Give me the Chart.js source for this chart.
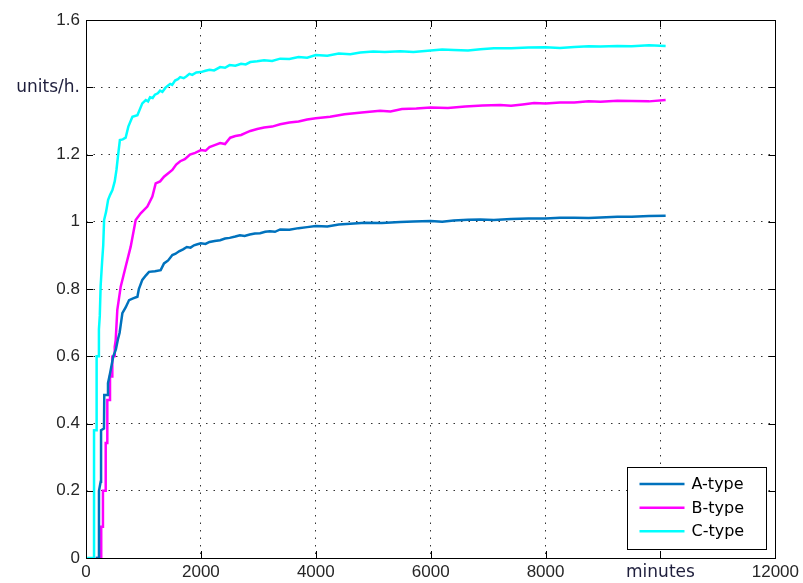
<!DOCTYPE html>
<html>
<head>
<meta charset="utf-8">
<script src="https://cdn.jsdelivr.net/npm/chart.js@4/dist/chart.umd.min.js"></script>
<style>
  html, body { margin: 0; padding: 0; background: #fff; }
  #wrap { width: 803px; height: 583px; }
</style>
</head>
<body>
<div id="wrap"><canvas id="myChart" width="803" height="583"></canvas></div>
<script>
// series values (x in minutes, y in units/h.)
const aMinutes = [170, 226, 226, 255, 262, 262, 313, 318, 383, 383, 420, 475, 520, 555, 585, 610, 633, 690, 750, 820, 895, 920, 980, 1040, 1097, 1200, 1300, 1358, 1430,
    1503, 1560, 1620, 1690, 1755, 1820, 1880, 1940, 2000, 2080, 2150, 2240, 2335, 2420, 2500, 2600, 2680, 2760, 2850, 2940, 3030, 3120, 3200, 3290, 3380, 3540, 3700, 3850,
    4000, 4200, 4400, 4600, 4860, 5150, 5470, 5700, 6000, 6200, 6400, 6650, 6865, 7100, 7400, 7700, 8000, 8250, 8500, 8750, 8955, 9250, 9500, 9800, 10090];
const aRate    = [0, 0, 0.2, 0.227, 0.227, 0.38, 0.385, 0.485, 0.485, 0.52, 0.55, 0.6, 0.62, 0.65, 0.67, 0.7, 0.728, 0.745, 0.767, 0.772, 0.777, 0.8, 0.827, 0.84, 0.851, 0.853, 0.856, 0.876, 0.885,
    0.901, 0.905, 0.912, 0.918, 0.925, 0.923, 0.93, 0.933, 0.936, 0.934, 0.94, 0.943, 0.945, 0.95, 0.952, 0.956, 0.96, 0.958, 0.962, 0.965, 0.966, 0.97, 0.972, 0.97, 0.977, 0.976, 0.981, 0.984,
    0.987, 0.986, 0.992, 0.994, 0.997, 0.996, 0.999, 1.001, 1.002, 1.0, 1.004, 1.006, 1.007, 1.005, 1.008, 1.01, 1.01, 1.012, 1.012, 1.011, 1.013, 1.015, 1.015, 1.017, 1.018];

const bMinutes = [170, 265, 265, 295, 295, 343, 343, 371, 371, 418, 418, 458, 458, 500, 500, 517, 545, 604, 690, 778, 865, 952, 1068, 1155, 1213, 1290, 1358,
    1503, 1570, 1640, 1720, 1810, 1900, 2000, 2080, 2150, 2240, 2335, 2420, 2510, 2600, 2700, 2780, 2860, 2980, 3100, 3240, 3380, 3540, 3700, 3850,
    4000, 4250, 4500, 4800, 5120, 5300, 5500, 5750, 6000, 6300, 6600, 6900, 7210, 7400, 7600, 7800, 8000, 8250, 8500, 8750, 8955, 9250, 9500, 9800, 10090];
const bRate    = [0, 0, 0.093, 0.093, 0.2, 0.2, 0.342, 0.342, 0.47, 0.47, 0.54, 0.54, 0.599, 0.6, 0.628, 0.648, 0.738, 0.807, 0.866, 0.926, 1.005, 1.025, 1.045, 1.075, 1.114, 1.12, 1.134,
    1.154, 1.17, 1.18, 1.186, 1.2, 1.205, 1.213, 1.211, 1.222, 1.228, 1.234, 1.231, 1.25, 1.255, 1.258, 1.264, 1.27, 1.276, 1.28, 1.283, 1.29, 1.295, 1.298, 1.304,
    1.308, 1.312, 1.32, 1.325, 1.33, 1.328, 1.335, 1.337, 1.34, 1.338, 1.343, 1.346, 1.347, 1.345, 1.349, 1.353, 1.352, 1.355, 1.355, 1.358, 1.357, 1.36, 1.359, 1.358, 1.362];

const cMinutes = [20, 140, 140, 185, 185, 225, 225, 240, 255, 280, 300, 315, 350, 385, 420, 460, 500, 530, 560, 590, 640, 690, 737, 808, 895, 980,
    1040, 1080, 1115, 1160, 1200, 1250, 1290, 1330, 1380, 1420, 1465, 1500, 1550, 1600, 1640, 1700, 1750, 1800, 1850, 1920, 2000, 2080, 2150, 2230, 2335, 2420,
    2500, 2600, 2700, 2780, 2860, 2980, 3100, 3240, 3380, 3540, 3700, 3850, 4000, 4200, 4400, 4600, 4775, 5000, 5200, 5470, 5700, 6000, 6200, 6400, 6650,
    6865, 7100, 7400, 7700, 8000, 8250, 8500, 8750, 8955, 9250, 9500, 9800, 10090];
const cRate    = [0, 0, 0.38, 0.38, 0.6, 0.6, 0.68, 0.72, 0.81, 0.88, 0.93, 1.005, 1.03, 1.065, 1.08, 1.094, 1.12, 1.154, 1.2, 1.243, 1.245, 1.25, 1.283, 1.312, 1.317, 1.352,
    1.362, 1.358, 1.37, 1.368, 1.378, 1.382, 1.39, 1.386, 1.398, 1.404, 1.41, 1.407, 1.42, 1.424, 1.43, 1.427, 1.433, 1.44, 1.437, 1.444, 1.445, 1.449, 1.452, 1.45, 1.46, 1.458,
    1.466, 1.464, 1.47, 1.468, 1.475, 1.477, 1.48, 1.478, 1.485, 1.484, 1.49, 1.488, 1.496, 1.494, 1.5, 1.498, 1.503, 1.506, 1.505, 1.507, 1.505, 1.509, 1.512, 1.511, 1.509,
    1.513, 1.516, 1.516, 1.518, 1.519, 1.517, 1.52, 1.522, 1.521, 1.523, 1.522, 1.525, 1.523];

const seriesNames = ['A-type', 'B-type', 'C-type'];
const seriesColors = ['#0072BD', '#FF00FF', '#00FFFF'];
const xTickLabels = { 10000: 'minutes' };
const yTickLabels = { '1.4': 'units/h.' };

const toPoints = (xs, ys) => xs.map((x, i) => ({ x: x, y: ys[i] }));
const yKey = v => String(Math.round(v * 10) / 10);
const isXWord = c => !!(c.tick && xTickLabels[c.tick.value]);
const isYWord = c => !!(c.tick && yTickLabels[yKey(c.tick.value)]);
const wordFont = { family: 'DejaVu Sans', size: 17 };
const numFont = { family: 'Liberation Sans', size: 17 };

// box, inner tick marks and legend drawn like the matlab axes
const axesBox = {
    id: 'axesBox',
    afterDatasetsDraw(chart) {
        const { ctx, chartArea: a, scales } = chart;
        const tl = 7;
        ctx.save();
        ctx.strokeStyle = '#000';
        ctx.lineWidth = 1;
        ctx.beginPath();
        scales.x.ticks.forEach(t => {
            const px = Math.round(scales.x.getPixelForValue(t.value)) + 0.5;
            ctx.moveTo(px, a.bottom); ctx.lineTo(px, a.bottom - tl);
            ctx.moveTo(px, a.top); ctx.lineTo(px, a.top + tl);
        });
        scales.y.ticks.forEach(t => {
            const py = Math.round(scales.y.getPixelForValue(t.value)) + 0.5;
            ctx.moveTo(a.left, py); ctx.lineTo(a.left + tl, py);
            ctx.moveTo(a.right, py); ctx.lineTo(a.right - tl, py);
        });
        ctx.stroke();
        ctx.strokeRect(Math.round(a.left) + 0.5, Math.round(a.top) + 0.5,
            Math.round(a.right - a.left), Math.round(a.bottom - a.top));

        // legend
        const w = 139, h = 82;
        const bx = Math.round(a.right - 9 - w) + 0.5;
        const by = Math.round(a.bottom - 9 - h) + 0.5;
        ctx.fillStyle = '#fff';
        ctx.fillRect(bx, by, w, h);
        ctx.strokeRect(bx, by, w, h);
        const rows = [16.5, 40.3, 63.7];
        ctx.font = '16px "DejaVu Sans"';
        ctx.textBaseline = 'middle';
        ctx.textAlign = 'left';
        chart.data.datasets.forEach((ds, i) => {
            const y = by + rows[i];
            ctx.strokeStyle = ds.borderColor;
            ctx.lineWidth = 2.5;
            ctx.beginPath();
            ctx.moveTo(bx + 12, y); ctx.lineTo(bx + 57, y);
            ctx.stroke();
            ctx.fillStyle = '#000';
            ctx.fillText(ds.label, bx + 64, y + 1);
        });
        ctx.restore();
    }
};

const ctx = document.getElementById('myChart').getContext('2d');
const myChart = new Chart(ctx, {
    type: 'line',
    data: {
        datasets: [
            { label: seriesNames[0], data: toPoints(aMinutes, aRate), borderColor: seriesColors[0], borderWidth: 2.5 },
            { label: seriesNames[1], data: toPoints(bMinutes, bRate), borderColor: seriesColors[1], borderWidth: 2.5 },
            { label: seriesNames[2], data: toPoints(cMinutes, cRate), borderColor: seriesColors[2], borderWidth: 2.5 }
        ]
    },
    options: {
        responsive: false,
        animation: false,
        elements: { point: { radius: 0 }, line: { tension: 0, fill: false } },
        layout: { padding: { top: 20, right: 27, left: 0, bottom: 0 } },
        scales: {
            x: {
                type: 'linear',
                min: 0,
                max: 12000,
                afterFit: s => { s.height = 25; },
                grid: { color: 'rgba(0,0,0,0.8)', lineWidth: 1, drawTicks: false },
                border: { display: false, dash: [1.5, 6] },
                ticks: {
                    stepSize: 2000,
                    padding: 4,
                    maxRotation: 0,
                    autoSkip: false,
                    callback: v => xTickLabels[v] || String(v),
                    color: c => (isXWord(c) ? '#1e1e3c' : '#262626'),
                    font: c => (isXWord(c) ? wordFont : numFont)
                }
            },
            y: {
                min: 0,
                max: 1.6,
                afterFit: s => { s.width = 86; },
                grid: { color: 'rgba(0,0,0,0.8)', lineWidth: 1, drawTicks: false },
                border: { display: false, dash: [1.5, 6] },
                ticks: {
                    stepSize: 0.2,
                    padding: 6,
                    autoSkip: false,
                    callback: v => yTickLabels[yKey(v)] || yKey(v),
                    color: c => (isYWord(c) ? '#1e1e3c' : '#262626'),
                    font: c => (isYWord(c) ? wordFont : numFont)
                }
            }
        },
        plugins: {
            legend: { display: false },
            tooltip: { enabled: false }
        }
    },
    plugins: [axesBox]
});
</script>
</body>
</html>
